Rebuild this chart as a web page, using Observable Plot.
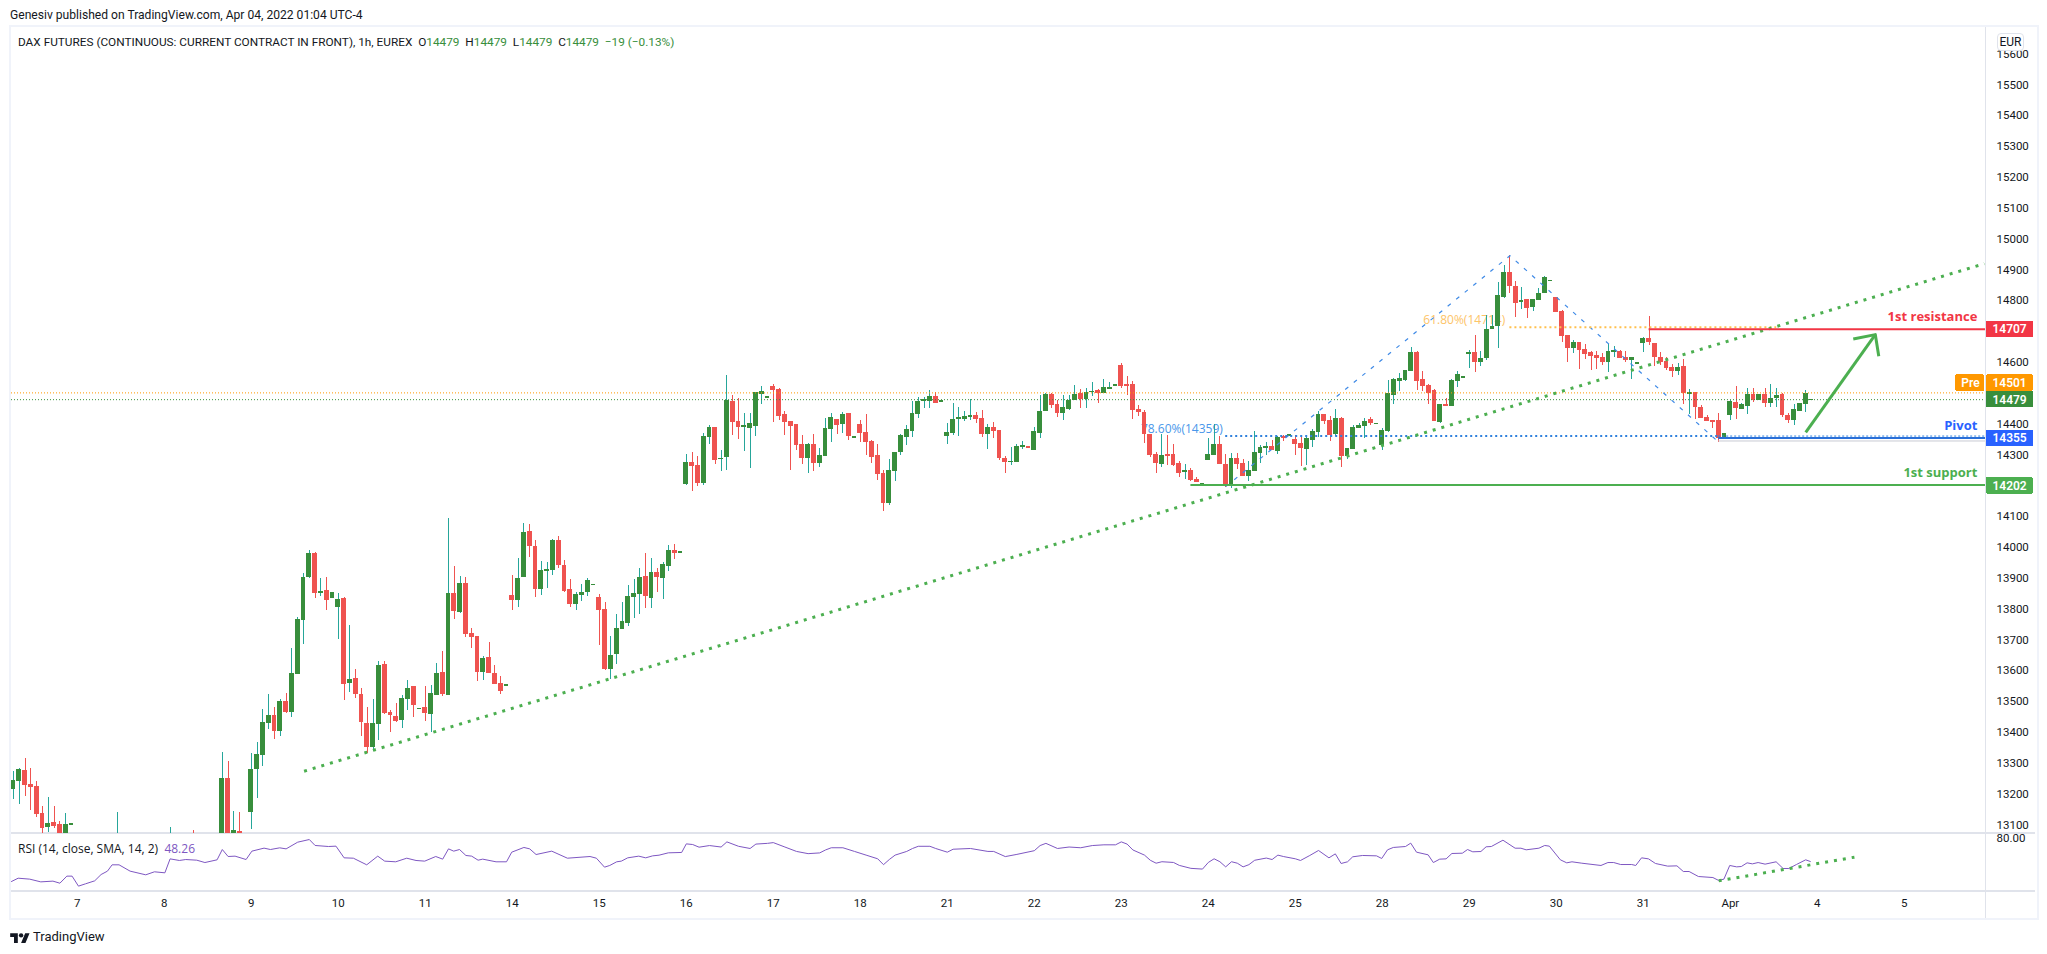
<!DOCTYPE html>
<html><head><meta charset="utf-8">
<style>
html,body{margin:0;padding:0;background:#fff;}
#wrap{position:relative;width:2047px;height:954px;overflow:hidden;font-family:Roboto,sans-serif;color:#131722;}
#wrap svg{position:absolute;left:0;}
.t{position:absolute;white-space:nowrap;font-size:12.1px;line-height:16px;}
.line{position:absolute;background:#e0e3eb;}
.frame{position:absolute;left:9px;top:25px;width:2026px;height:891px;border:2px solid #f0f3fa;}
.g{color:#388e3c}
</style></head>
<body>
<script src="https://cdn.jsdelivr.net/npm/d3@7"></script>
<script src="https://cdn.jsdelivr.net/npm/@observablehq/plot@0.6"></script>
<div id="wrap"></div>
<script>
// ---- hourly candles, one value per bar; null = bar lies wholly below the visible pane
const hidden = v => [null,null,null,null,null,null,null,v[0],null,null,null,null,null,null,null,null,v[1],null,null,null,v[2],null,null,null,null,v[3],v[4],v[5],v[6],null];
const open = [
13215,13241,13276,13231,13224,13137,13091,13108,13101,13040,13099,
...hidden([13000,13000,13060,13040,13250,13040,13078]),
13140,13279,13325,13429,13455,13403,13500,13464,13588,13763,13902,13980,13850,13860,13834,
13805,13834,13558,13575,13523,13429,13352,13427,13621,13465,13452,13440,13508,13549,13475,
13481,13459,13520,13594,13520,13850,13789,13883,13721,13711,13594,13643,13591,13559,13550,
13844,13828,13902,14051,14003,13863,13922,13925,14022,13941,13863,13815,13844,13854,13877,
13837,13798,13604,13653,13734,13753,13837,13847,13905,13834,13918,13899,13938,13990,13981,
14204,14275,14265,14207,14356,14389,14285,14291,14473,14408,14390,14385,14392,14496,14484,
14522,14512,14431,14408,14398,14334,14288,14334,14272,14295,14382,14415,14398,14434,14354,
14398,14372,14343,14298,14240,14142,14246,14308,14356,14376,14431,14474,14473,14489,14471,
14360,14369,14415,14415,14421,14428,14418,14366,14389,14379,14288,14276,14275,14325,14327,
14314,14369,14441,14496,14463,14434,14447,14476,14499,14480,14503,14509,14499,14512,14523,
14590,14525,14528,14447,14437,14366,14301,14269,14301,14301,14272,14244,14249,14220,14202,
14281,14298,14334,14269,14197,14288,14272,14230,14246,14304,14321,14327,14311,14360,14361,
14350,14337,14317,14347,14372,14431,14411,14366,14418,14295,14317,14385,14392,14415,14399,
14330,14376,14492,14538,14541,14570,14632,14544,14525,14509,14405,14463,14457,14538,14549,
14625,14632,14599,14612,14706,14716,14810,14891,14846,14794,14804,14778,14800,14823,14863,
14810,14765,14687,14645,14664,14641,14632,14622,14616,14599,14632,14635,14616,14606,14594,
14661,14677,14660,14615,14602,14583,14570,14586,14495,14502,14453,14421,14408,14411,14354,
14427,14469,14447,14457,14495,14476,14495,14466,14482,14495,14427,14411,14440,14463,14477];
const high = [
13273,13282,13315,13283,13241,13159,13189,13159,13111,13137,13101,
...hidden([13140,13091,13082,13335,13305,13143,13140]),
13331,13367,13474,13523,13481,13507,13526,13672,13772,13915,13990,13982,13899,13902,13853,
13850,13837,13746,13604,13542,13481,13507,13630,13630,13471,13493,13520,13568,13550,13477,
13549,13552,13623,13662,14094,13938,13905,13902,13737,13712,13646,13691,13617,13581,13552,
13909,13964,14077,14074,14022,13954,13951,14025,14035,13957,13896,13854,13880,13899,13879,
13847,13821,13711,13782,13821,13876,13896,13931,13980,13964,13931,13951,14006,14009,13983,
14301,14308,14295,14369,14395,14390,14314,14557,14492,14483,14434,14434,14503,14522,14486,
14528,14515,14441,14409,14399,14363,14337,14366,14321,14418,14434,14416,14437,14435,14356,
14411,14431,14347,14334,14249,14285,14309,14366,14395,14473,14486,14486,14509,14502,14473,
14402,14467,14454,14441,14480,14437,14444,14398,14405,14380,14295,14324,14334,14343,14328,
14389,14492,14500,14499,14476,14492,14492,14525,14512,14515,14535,14512,14544,14535,14525,
14596,14554,14538,14460,14444,14367,14308,14366,14363,14334,14278,14269,14256,14227,14206,
14353,14398,14360,14301,14304,14304,14285,14278,14376,14330,14340,14347,14358,14363,14363,
14363,14360,14360,14382,14441,14432,14424,14447,14421,14322,14395,14402,14418,14420,14401,
14385,14541,14547,14564,14574,14648,14635,14570,14527,14512,14464,14483,14544,14570,14551,
14638,14687,14635,14752,14752,14859,14914,14946,14862,14843,14805,14805,14839,14878,14865,
14811,14768,14688,14671,14665,14658,14635,14635,14630,14658,14651,14638,14635,14617,14596,
14680,14748,14661,14632,14615,14593,14596,14609,14512,14503,14460,14427,14409,14434,14369,
14476,14521,14465,14515,14515,14497,14515,14528,14515,14499,14434,14463,14467,14508,14479];
const low = [
13182,13166,13192,13146,13124,13060,13075,13088,13040,13030,13099,
...hidden([12950,12990,13000,13000,13040,13030,13040]),
13085,13185,13289,13409,13377,13387,13461,13448,13588,13685,13899,13834,13841,13795,13834,
13701,13503,13529,13510,13387,13333,13339,13374,13457,13398,13433,13414,13471,13449,13475,
13436,13398,13520,13516,13520,13766,13786,13708,13672,13565,13568,13591,13555,13523,13550,
13795,13805,13902,13967,13837,13844,13867,13909,13931,13854,13805,13795,13824,13841,13877,
13682,13601,13572,13620,13734,13743,13769,13782,13802,13802,13854,13831,13922,13961,13981,
14201,14181,14197,14201,14334,14269,14246,14249,14363,14350,14311,14256,14360,14463,14484,
14405,14411,14363,14249,14314,14269,14240,14246,14259,14295,14340,14366,14369,14347,14354,
14340,14298,14272,14217,14116,14136,14214,14298,14330,14356,14418,14450,14450,14467,14471,
14334,14363,14360,14408,14411,14402,14356,14317,14353,14282,14240,14265,14275,14317,14321,
14314,14354,14441,14450,14421,14411,14444,14476,14450,14450,14489,14467,14499,14512,14523,
14515,14492,14415,14424,14337,14291,14240,14259,14265,14262,14227,14220,14214,14210,14202,
14281,14298,14269,14195,14192,14252,14230,14214,14246,14272,14298,14314,14301,14343,14361,
14298,14262,14265,14324,14356,14398,14343,14360,14259,14285,14317,14385,14353,14395,14399,
14314,14372,14463,14505,14538,14570,14509,14505,14463,14408,14402,14457,14457,14518,14549,
14580,14567,14586,14606,14706,14645,14807,14823,14745,14771,14742,14765,14800,14823,14863,
14762,14664,14599,14629,14577,14609,14573,14577,14590,14567,14616,14612,14599,14544,14594,
14632,14654,14586,14589,14573,14551,14557,14463,14431,14414,14418,14408,14385,14341,14354,
14411,14414,14447,14431,14470,14476,14453,14453,14453,14421,14401,14395,14440,14437,14477];
const close = [
13244,13279,13228,13221,13134,13088,13104,13095,13050,13101,13101,
...hidden([13020,13040,13020,13250,13060,13082,13060]),
13279,13328,13432,13455,13403,13500,13464,13591,13766,13902,13980,13850,13857,13828,13853,
13831,13555,13571,13523,13433,13352,13429,13617,13462,13455,13435,13510,13542,13488,13477,
13462,13526,13591,13523,13850,13792,13883,13717,13708,13594,13640,13591,13555,13533,13552,
13828,13899,14048,14003,13863,13925,13928,14022,13941,13857,13815,13847,13854,13893,13879,
13795,13604,13649,13737,13760,13841,13850,13902,13841,13918,13902,13944,13990,13980,13983,
14275,14262,14207,14360,14389,14282,14288,14476,14405,14389,14392,14402,14502,14505,14486,
14509,14424,14405,14392,14330,14288,14334,14272,14298,14385,14421,14395,14431,14360,14356,
14369,14340,14291,14236,14142,14249,14308,14363,14382,14434,14473,14477,14489,14467,14473,
14372,14415,14421,14424,14428,14415,14366,14389,14376,14288,14275,14278,14327,14327,14321,
14376,14441,14496,14460,14434,14454,14476,14496,14480,14502,14505,14499,14518,14518,14525,
14522,14523,14444,14437,14366,14298,14272,14298,14295,14265,14240,14246,14217,14210,14206,
14301,14334,14269,14197,14288,14269,14230,14249,14308,14324,14327,14314,14356,14353,14363,
14334,14321,14353,14376,14431,14408,14363,14418,14295,14321,14389,14395,14408,14402,14401,
14379,14499,14544,14547,14573,14632,14538,14522,14499,14408,14463,14457,14541,14560,14551,
14632,14599,14612,14706,14716,14817,14891,14846,14791,14800,14774,14804,14823,14875,14865,
14762,14684,14645,14664,14638,14625,14619,14612,14599,14635,14638,14612,14606,14616,14596,
14677,14664,14615,14599,14580,14570,14583,14499,14502,14453,14418,14408,14406,14353,14369,
14473,14450,14463,14495,14476,14495,14466,14482,14492,14427,14411,14447,14466,14499,14479];

// ---- RSI line: bar position and value at each vertex
const rsiBar = [-0.35,0.8,2.8,4.7,6.8,8,9.2,10.1,11.2,12.4,14,15.1,16.2,17,18.2,20.1,22.8,24.3,26.1,27,28.6,29.7,31.6,33,35.1,36,37,38.2,40.1,41.1,43.2,44.3,45.9,47,49,51,52,54.3,55.6,57,58.6,60.9,62.8,64,65.9,67.8,69.4,70.9,72.8,74,75,75.9,76.9,78,79,80.1,80.9,83.2,85,85.9,88,89,90.1,92.8,95.5,99.4,100.5,101.9,102.8,104,104.8,105.9,107.8,109,110.2,111.3,112.9,115.2,116,117.1,118.2,
120,122,123,125,127,128,130,131,133,135,137,139,140,141,143,145,147,149,150,151,152,154,155,156,158,159,161,162,165,168,169,171,173,176,177,178,180,182,184,186,188,190,191,192,193,195,196,197,198,200,201,203,205,206,207,208,209,210,211,212,213,214,216,217,218,219,221,
221.9,223.5,225,226.8,227.9,228.9,230,230.9,232.6,235,235.9,236.9,237.9,240,240.9,241.9,243.9,244.8,245.9,247,248,249.8,250.7,251.6,253,253.9,254.8,256.8,258.9,259.9,260.8,263,264,264.8,266.7,267.8,268.7,270.4,273.7,274.9,275.9,277.1,279,279.7,280.7,281.9,283.1,285.2,286.8,287.9,288.9,290.5,293,294,294.9,295.9,297.1,297.9,298.9,299.8,300.8,302,303.9,305.1,306.1,307.4,309,309.8];
const rsiValue = [21.1,25.6,24.3,20.6,21.6,18.8,28.4,28.4,14.8,17.9,22,30.6,35.2,43.8,43.8,35.2,30.2,34.3,32.9,51.9,49.7,51,50.1,46.9,50.6,64.6,55.1,55.6,51,62.4,66.5,64.6,66.9,65.5,74.6,78.2,70.1,68.7,69.2,53.3,52.8,43.8,55.6,48.8,47.9,52.8,49.7,48.8,55.1,51.5,65.5,62.4,64.6,56.5,55.6,50.1,51.5,47.9,47.9,61,67.4,65.5,57.8,62.4,52.8,55.1,52.8,40.6,42.9,47.9,48.8,53.3,55.6,53.3,56,56.9,60.1,60.6,72.3,71.4,67.8,
70,68,75,69,66,72,73,74,68,62,59,60,64,67,67,62,57,52,44,51,57,62,66,69,69,66,61,65,66,62,62,55,58,63,70,73,66,68,67,70,71,71,75,72,64,57,50,46,48,47,43,39,38,47,52,48,41,48,46,41,44,50,53,51,57,55,52,
49.7,56.5,63.3,53.3,58.7,45.6,47.9,54.7,56.5,56,52.4,64.2,67.4,68.7,73.3,61,57.4,46.9,51.5,51.9,59.2,59.6,64.6,61.5,61.9,68.3,68.7,77.3,66.4,66.4,64.2,66.4,70.1,69.2,50.6,46.5,47.9,46,42.9,46.9,46.9,44.2,44.2,42.9,53.3,51.9,45.6,42,42.4,34.7,34.7,27.9,26.5,22.5,24.3,42.9,41,41.5,46.5,45.1,46.9,44.7,47.9,38.8,38.8,44.2,50.6,48.3];

// ---- axis labels
const priceTicks = [15600,15500,15400,15300,15200,15100,15000,14900,14800,14600,14400,14300,14100,14000,13900,13800,13700,13600,13500,13400,13300,13200,13100];
const dayLabels = ["7","8","9","10","11","14","15","16","17","18","21","22","23","24","25","28","29","30","31","Apr","4","5"];
const dayBars = [11,26,41,56,71,86,101,116,131,146,161,176,191,206,221,236,251,266,281,296,311,326];

// ---- drawings on the chart (bar position, price)
const trendBar = [50.1,339.8], trendPrice = [13274,14920];
const fibBar = [209,258,294], fibPrice = [14197,14946,14341];
const arrowShaft = {bar:[309,321], price:[14373,14690]};
const arrowHead = {bar:[317.2,321,321.6], price:[14676,14690,14620]};
const rsiTrendBar = [294,317.4], rsiTrendValue = [22,54.2];
const tagValues = ["14707","14501","14479","14355","14202"];
const tagPrices = [14707,14533,14479,14353,14199];
const tagColors = ["#f23645","#ff9800","#388e3c","#2962ff","#4caf50"];

const font = '"Open Sans",sans-serif';
const axisFont = 'Roboto,sans-serif';
const bars = open.map((o,i)=>({i,o,h:high[i],l:low[i],c:close[i]})).filter(d=>d.h!=null);
const up = bars.filter(d=>d.c>=d.o), down = bars.filter(d=>d.c<d.o);
const bodyTop = d=>Math.abs(d.c-d.o)<6 ? (d.c+d.o)/2+3 : Math.max(d.c,d.o);
const bodyBot = d=>Math.abs(d.c-d.o)<6 ? (d.c+d.o)/2-3 : Math.min(d.c,d.o);
const body = {x1:d=>d.i-0.43,x2:d=>d.i+0.43,y1:bodyBot,y2:bodyTop,clip:true,shapeRendering:"crispEdges"};
const wick = {x:"i",y1:"l",y2:"h",strokeWidth:1,clip:true,shapeRendering:"crispEdges"};
const hline=(b1,b2,p,stroke,strokeWidth,dash)=>Plot.ruleY([p],{x1:b1,x2:b2,stroke,strokeWidth,strokeDasharray:dash});
const pts=(b,p)=>b.map((x,k)=>({x,y:p[k]}));
const dotted={x:"x",y:"y",stroke:"#4caf50",strokeWidth:3,strokeDasharray:"3 6",strokeLinecap:"butt"};
const xDomain=[-0.345,340], chartRight=340, tagEnd=348.3;

const main = Plot.plot({
  width:2047,height:833,marginTop:27,marginBottom:0,marginLeft:11,marginRight:62,
  x:{domain:xDomain,axis:null},
  y:{domain:[13072,15686],axis:null},
  style:{background:"transparent",fontFamily:axisFont,fontSize:"12px",color:"#131722"},
  marks:[
    Plot.axisY(priceTicks,{anchor:"right",tickSize:0,tickPadding:11,label:null,tickFormat:d=>String(d),textAnchor:"start",fill:"#131722",fontSize:11.5}),
    Plot.text(["78.60%(14359)"],{x:[208.5],y:[14382],text:d=>d,textAnchor:"end",fill:"#4a97ea",fontSize:12,fontFamily:font}),
    Plot.text(["61.80%(14714)"],{x:[257.2],y:[14736],text:d=>d,textAnchor:"end",fill:"#fdc468",fontSize:12,fontFamily:font}),
    Plot.ruleX(up,{...wick,stroke:"#26a69a"}),
    Plot.ruleX(down,{...wick,stroke:"#ef5350"}),
    Plot.rect(up,{...body,fill:"#388e3c"}),
    Plot.rect(down,{...body,fill:"#ef5350"}),
    hline(-0.345,chartRight,14501,"#ff9800",1,"1 2"),
    hline(-0.345,chartRight,14479,"#388e3c",1,"1 2"),
    Plot.line(pts(fibBar,fibPrice),{x:"x",y:"y",stroke:"#3f8ae6",strokeWidth:1.2,strokeDasharray:"4 7",strokeLinecap:"butt"}),
    hline(258,304,14714,"#ffc04d",2,"2 3"),
    hline(209,294,14361,"#2f80dd",2,"2 3"),
    hline(294,chartRight,14361,"#2f80dd",1,"2 2"),
    Plot.line(pts(trendBar,trendPrice),dotted),
    hline(282,chartRight,14707,"#f23645",2),
    hline(294,chartRight,14345,"#c8cbd3",1),
    hline(294,chartRight,14355,"#2a6fd8",2),
    hline(203,chartRight,14202,"#4caf50",2),
    Plot.line(pts(arrowShaft.bar,arrowShaft.price),{x:"x",y:"y",stroke:"#4caf50",strokeWidth:3,strokeLinecap:"butt"}),
    Plot.line(pts(arrowHead.bar,arrowHead.price),{x:"x",y:"y",stroke:"#4caf50",strokeWidth:3,strokeLinecap:"butt"}),
    Plot.text(["1st resistance"],{x:[338.6],y:[14749],text:d=>d,textAnchor:"end",fill:"#f23645",fontSize:13,fontWeight:700,fontFamily:font}),
    Plot.text(["Pivot"],{x:[338.6],y:[14393],text:d=>d,textAnchor:"end",fill:"#2962ff",fontSize:13,fontWeight:700,fontFamily:font}),
    Plot.text(["1st support"],{x:[338.6],y:[14243],text:d=>d,textAnchor:"end",fill:"#4caf50",fontSize:13,fontWeight:700,fontFamily:font}),
    Plot.rect(tagValues.map((v,k)=>({p:tagPrices[k],f:tagColors[k]})),{x1:chartRight+0.1,x2:tagEnd,y1:d=>d.p-26,y2:d=>d.p+26,fill:"f",rx:1,shapeRendering:"crispEdges"}),
    Plot.text(tagValues.map((v,k)=>({v,p:tagPrices[k]})),{x:(chartRight+tagEnd)/2,y:"p",text:"v",fill:"#fff",fontSize:12,fontWeight:600,fontFamily:axisFont}),
    Plot.rect([14533],{x1:334.9,x2:chartRight-0.1,y1:d=>d-26,y2:d=>d+26,fill:"#ff9800",rx:1,shapeRendering:"crispEdges"}),
    Plot.text(["Pre"],{x:[337.4],y:[14533],text:d=>d,fill:"#fff",fontSize:12,fontWeight:600,fontFamily:axisFont})
  ]
});
main.style.top="0px";

const rsi = Plot.plot({
  width:2047,height:85,marginTop:0,marginBottom:27,marginLeft:11,marginRight:62,
  x:{domain:xDomain,axis:null},
  y:{domain:[7.5,86.4],axis:null},
  style:{background:"transparent",fontFamily:axisFont,fontSize:"12px",color:"#131722",overflow:"visible"},
  marks:[
    Plot.axisX(dayBars,{anchor:"bottom",tickSize:0,tickPadding:7,label:null,tickFormat:d=>dayLabels[dayBars.indexOf(d)],fill:"#131722",fontSize:11.5}),
    Plot.axisY([80],{anchor:"right",tickSize:0,tickPadding:11,label:null,tickFormat:d=>d.toFixed(2),textAnchor:"start",fill:"#131722",fontSize:11.5}),
    Plot.line(pts(rsiBar,rsiValue),{x:"x",y:"y",stroke:"#7e57c2",strokeWidth:1,clip:true}),
    Plot.line(pts(rsiTrendBar,rsiTrendValue),dotted)
  ]
});
rsi.style.top="833px";

const wrap=document.getElementById("wrap");
wrap.innerHTML=`
<div class="frame"></div>
<div class="line" style="left:1985px;top:27px;width:1px;height:891px"></div>
<div class="line" style="left:11px;top:832px;width:2024px;height:1.5px"></div>
<div class="line" style="left:11px;top:890px;width:2024px;height:1.5px"></div>
<div class="t" style="left:10px;top:7px">Genesiv published on TradingView.com, Apr 04, 2022 01:04 UTC-4</div>
<div class="t" style="left:18px;top:34px;font-size:11.8px">DAX FUTURES (CONTINUOUS: CURRENT CONTRACT IN FRONT), 1h, EUREX &nbsp;O<span class="g">14479</span> &nbsp;H<span class="g">14479</span> &nbsp;L<span class="g">14479</span> &nbsp;C<span class="g">14479</span> &nbsp;<span class="g">−19 (−0.13%)</span></div>
<div class="t" style="left:18px;top:841px;font-size:12px;font-family:'Open Sans',sans-serif">RSI (14, close, SMA, 14, 2) &nbsp;<span style="color:#7e57c2">48.26</span></div>
<svg style="left:10px;top:931px" width="20" height="12" viewBox="0 0 36 22"><path fill="#131722" d="M14 22H7V11H0V4h14v18zM28 22h-8l7.5-18h8L28 22z"/><circle fill="#131722" cx="20" cy="8" r="4"/></svg>
<div class="t" style="left:33px;top:929px;font-size:13px">TradingView</div>`;
wrap.append(main,rsi);
const eur=document.createElement("div");
eur.className="t";
eur.textContent="EUR";
eur.style.cssText+="left:1997px;top:33px;width:25px;height:16px;text-align:center;background:#fff;border:1px solid #e0e3eb;border-radius:4px;font-size:12px";
wrap.append(eur);
</script>
</body></html>
